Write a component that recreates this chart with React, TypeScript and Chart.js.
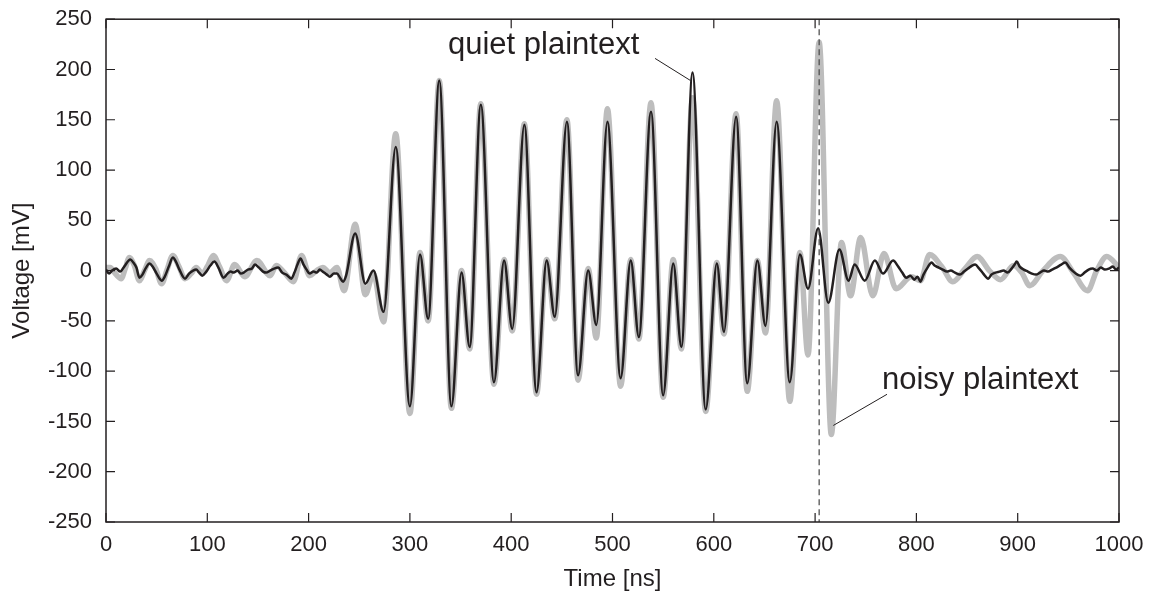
import React, { useEffect, useRef } from 'react';
import { Chart, registerables } from 'chart.js';

Chart.register(...registerables);

// ---- Data (time in ns, voltage in mV) ----
const quietTime = [
  0, 3, 6, 10, 14, 18, 24, 27, 30, 33, 36, 39, 43, 46, 50, 55, 58, 62, 66, 69, 72, 78, 82, 86, 89, 92, 95, 99,
  103, 107, 111, 116, 120, 123, 126, 130, 133, 136, 140, 144, 147, 151, 155, 158, 162, 166, 170, 174, 178, 183,
  186, 189, 192, 195, 198, 201, 205, 208, 211, 214, 218, 221, 225, 228, 231, 234, 237,
  246, 256, 264, 274, 286, 300, 310, 318, 329, 341, 351, 359, 370, 383, 393, 401, 413, 425, 435, 443, 455, 466,
  476, 484, 495, 508, 518, 526, 538, 550, 560, 568, 579, 592, 603, 610, 622, 633, 643, 651, 662, 675, 685, 693,
  703, 713, 724, 733, 739, 749, 759, 767, 777,
  782, 786, 790, 794, 798, 801, 804, 807, 811, 815, 818, 822, 826, 830, 834, 838, 843, 847, 851, 855, 858, 862,
  866, 871, 874, 878, 882, 886, 890, 894, 897, 899, 902, 906, 910, 914, 918, 922, 926, 930, 934, 938, 943, 947,
  951, 955, 959, 962, 966, 970, 974, 978, 982, 986, 990, 994, 997, 1000,
];
const quietVolt = [
  1, -3, 0, 2, -1, 4, 11, 8, 3, -7, -4, 2, 7, 4, -3, -10, -6, 4, 13, 9, 2, -8, -3, 0, 1, -2, -5, -1,
  5, 9, 3, -7, -3, -1, -2, 0, -3, -2, 1, 2, 6, 3, -1, -2, 0, 2, 3, -2, -4, -8,
  -2, 6, 12, 6, 1, -3, -1, -2, 1, -1, -4, -6, -3, -3, -7, -11, -5,
  37, -13, 0, -41, 123, -135, 16, -48, 189, -135, -2, -76, 165, -111, 10, -58, 145, -121, 10, -46, 148, -104,
  0, -54, 148, -107, 10, -66, 158, -124, 7, -76, 197, -138, 7, -61, 153, -112, 10, -55, 148, -111, 16, -18,
  42, -32, 21, -10, 6, -10, 10, -3, 10,
  4, -2, -7, -5, -9, -6, -11, -4, 3, 8, 5, 3, 1, -1, 0, -2, -4, -1, 2, 5, 6, 2,
  -3, -8, -4, -2, -1, 0, -2, 2, 6, 9, 4, 1, -1, -3, -4, -2, 0, -1, 1, 3, 6, 8,
  3, -1, -4, -5, -2, 1, 2, 0, 3, 1, 2, 4, 1, 3,
];

const noisyTime = [
  0, 4, 10, 15, 19, 23, 28, 33, 38, 43, 49, 55, 60, 66, 72, 78, 84, 89, 95, 100, 106, 112, 119, 127, 137, 149,
  162, 168, 176, 185, 193, 201, 208, 214, 221, 228, 235,
  246, 256, 264, 274, 286, 300, 310, 318, 329, 341, 351, 359, 370, 383, 393, 401, 413, 425, 435, 443, 455, 466,
  476, 484, 495, 508, 518, 526, 538, 550, 560, 568, 579, 592, 603, 610, 622, 633, 643, 651, 662, 675, 685, 693,
  704, 716, 726, 735, 745, 757, 768, 780, 795, 804, 813, 825, 836, 848, 860, 872, 883, 896, 904, 912, 925, 942,
  955, 969, 978, 988, 1000,
];
const noisyVolt = [
  3, 3, -4, -8, 2, 13, 5, -10, 0, 10, 2, -13, 0, 15, 4, -8, -3, 3, -3, 4, 15, 4, -10, 6, -6, 10,
  -5, 5, -2, -11, 15, -5, 0, 3, -2, 3, -20,
  46, -24, -3, -51, 136, -142, 18, -50, 189, -137, 0, -78, 166, -113, 11, -60, 146, -123, 11, -48, 150, -109,
  2, -67, 161, -115, 11, -68, 167, -126, 11, -78, 172, -140, 8, -63, 156, -120, 10, -62, 169, -130, 18, -84,
  227, -163, 28, -25, 33, -25, 17, -18, -6, -10, 16, 4, -11, 2, 14, 0, -9, 5, -2, -15, 0, 14,
  -2, -20, 0, 14, 3,
];

const xTickValues = [0, 100, 200, 300, 400, 500, 600, 700, 800, 900, 1000];
const yTickValues = [-250, -200, -150, -100, -50, 0, 50, 100, 150, 200, 250];
const markerTime = 704;

const quietLabel = 'quiet plaintext';
const quietLabelPos = [432, 224];
const quietLeader = [542, 211, 577, 189];
const noisyLabel = 'noisy plaintext';
const noisyLabelPos = [863, -109];
const noisyLeader = [771, -123, 718, -154];

const INK = '#231f20';
const FONT = '"Liberation Sans", Arial, Helvetica, sans-serif';

const framePlugin = {
  id: 'framePlugin',
  afterDatasetsDraw(chart: any) {
    const { ctx, chartArea, scales } = chart;
    const x = scales.x;
    const y = scales.y;
    const { left, right, top, bottom } = chartArea;
    ctx.save();
    // dashed marker line
    ctx.strokeStyle = '#444';
    ctx.lineWidth = 1.2;
    ctx.setLineDash([6, 4]);
    const mx = x.getPixelForValue(markerTime);
    ctx.beginPath();
    ctx.moveTo(mx, top);
    ctx.lineTo(mx, bottom);
    ctx.stroke();
    ctx.setLineDash([]);
    // frame
    ctx.strokeStyle = INK;
    ctx.lineWidth = 1.5;
    ctx.strokeRect(left, top, right - left, bottom - top);
    // inward ticks
    const tl = 9;
    ctx.lineWidth = 1.2;
    ctx.beginPath();
    xTickValues.forEach((v) => {
      const px = x.getPixelForValue(v);
      ctx.moveTo(px, bottom);
      ctx.lineTo(px, bottom - tl);
      ctx.moveTo(px, top);
      ctx.lineTo(px, top + tl);
    });
    yTickValues.forEach((v) => {
      const py = y.getPixelForValue(v);
      ctx.moveTo(left, py);
      ctx.lineTo(left + tl, py);
      ctx.moveTo(right, py);
      ctx.lineTo(right - tl, py);
    });
    ctx.stroke();
    // annotations
    ctx.lineWidth = 1;
    ctx.beginPath();
    ctx.moveTo(x.getPixelForValue(quietLeader[0]), y.getPixelForValue(quietLeader[1]));
    ctx.lineTo(x.getPixelForValue(quietLeader[2]), y.getPixelForValue(quietLeader[3]));
    ctx.moveTo(x.getPixelForValue(noisyLeader[0]), y.getPixelForValue(noisyLeader[1]));
    ctx.lineTo(x.getPixelForValue(noisyLeader[2]), y.getPixelForValue(noisyLeader[3]));
    ctx.stroke();
    ctx.fillStyle = INK;
    ctx.font = `31px ${FONT}`;
    ctx.textAlign = 'center';
    ctx.textBaseline = 'middle';
    ctx.fillText(quietLabel, x.getPixelForValue(quietLabelPos[0]), y.getPixelForValue(quietLabelPos[1]));
    ctx.fillText(noisyLabel, x.getPixelForValue(noisyLabelPos[0]), y.getPixelForValue(noisyLabelPos[1]));
    ctx.restore();
  },
};

export default function App() {
  const canvasRef = useRef<HTMLCanvasElement | null>(null);

  useEffect(() => {
    document.body.style.margin = '0';
    const canvas = canvasRef.current;
    if (!canvas) return;
    const chart = new Chart(canvas, {
      type: 'scatter',
      data: {
        datasets: [
          {
            label: 'quiet plaintext',
            data: quietTime.map((t, i) => ({ x: t, y: quietVolt[i] })),
            showLine: true,
            borderColor: INK,
            borderWidth: 2.5,
            pointRadius: 0,
            cubicInterpolationMode: 'monotone',
            order: 0,
          },
          {
            label: 'noisy plaintext',
            data: noisyTime.map((t, i) => ({ x: t, y: noisyVolt[i] })),
            showLine: true,
            borderColor: '#bdbdbd',
            borderWidth: 5.5,
            pointRadius: 0,
            cubicInterpolationMode: 'monotone',
            order: 1,
          },
        ],
      },
      plugins: [framePlugin],
      options: {
        animation: false,
        responsive: false,
        devicePixelRatio: 1,
        layout: { padding: { left: 0, top: 0, right: 42, bottom: 0 } },
        plugins: {
          legend: { display: false },
          tooltip: { enabled: false },
        },
        scales: {
          x: {
            type: 'linear',
            min: 0,
            max: 1000,
            afterFit: (s: any) => { s.height = 72; },
            afterBuildTicks: (s: any) => { s.ticks = xTickValues.map((v) => ({ value: v })); },
            grid: { display: false },
            border: { display: false },
            ticks: { color: INK, font: { family: FONT, size: 22 }, padding: 2, maxRotation: 0, callback: (v: any) => String(v) },
            title: { display: true, text: 'Time [ns]', color: INK, font: { family: FONT, size: 24 }, padding: { top: 0, bottom: 0 } },
          },
          y: {
            type: 'linear',
            min: -250,
            max: 250,
            afterFit: (s: any) => { s.width = 106; },
            afterBuildTicks: (s: any) => { s.ticks = yTickValues.map((v) => ({ value: v })); },
            grid: { display: false },
            border: { display: false },
            ticks: { color: INK, font: { family: FONT, size: 22 }, padding: 6, callback: (v: any) => String(v) },
            title: { display: true, text: 'Voltage [mV]', color: INK, font: { family: FONT, size: 24 }, padding: { top: 8, bottom: 0 } },
          },
        },
      },
    } as any);
    return () => chart.destroy();
  }, []);

  return (
    <div style={{ width: 1161, height: 594, background: '#fff' }}>
      <canvas ref={canvasRef} width={1161} height={594} />
    </div>
  );
}
